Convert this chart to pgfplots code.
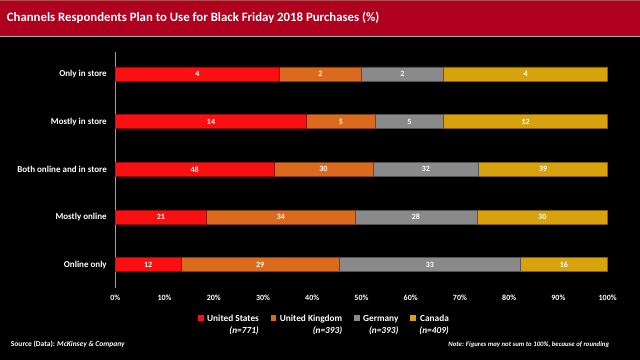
\documentclass[border=0pt]{standalone}
\usepackage{pgfplots}
\usepackage{pgfplotstable}
\pgfplotsset{compat=1.18}
\usepackage{fontspec}
\setmainfont{Carlito}
\definecolor{titlered}{HTML}{B00020}
\definecolor{cUS}{HTML}{FA1010}
\definecolor{cUK}{HTML}{DC6A1E}
\definecolor{cDE}{HTML}{8A8A8A}
\definecolor{cCA}{HTML}{D8A20C}

\pgfplotstableread{
y p v
0 13.33 12
1 18.58 21
2 32.21 48
3 38.89 14
4 33.33 4
}\tUS
\pgfplotstableread{
y p v
0 32.22 29
1 30.09 34
2 20.13 30
3 13.89 5
4 16.67 2
}\tUK
\pgfplotstableread{
y p v
0 36.67 33
1 24.78 28
2 21.48 32
3 13.89 5
4 16.67 2
}\tDE
\pgfplotstableread{
y p v
0 17.78 16
1 26.55 30
2 26.18 39
3 33.33 12
4 33.33 4
}\tCA

\begin{document}
\begin{tikzpicture}[x=1pt,y=1pt]
\fill[black] (0,0) rectangle (640,360);
\fill[titlered] (0,323) rectangle (640,360);
\draw[gray!60,line width=0.8pt] (0,323.4) -- (640,323.4);
\draw[red!40!gray,line width=0.6pt] (0,359.3) -- (640,359.3);
\node[anchor=west,text=white,font=\bfseries\fontsize{12.8}{14}\selectfont] at (3,342) {Channels Respondents Plan to Use for Black Friday 2018 Purchases (\%)};
\begin{axis}[
  at={(115pt,72pt)}, anchor=south west,
  scale only axis, width=493pt, height=236pt,
  xbar stacked, bar width=14pt,
  xmin=0, xmax=100, ymin=-0.48, ymax=4.46,
  axis lines*=left,
  x axis line style={draw=none},
  y axis line style={draw=gray!75, line width=0.6pt},
  major tick length=0pt,
  xtick={0,10,...,100},
  xticklabel={\pgfmathprintnumber{\tick}\%},
  /pgf/number format/assume math mode=true,
  ytick={0,1,2,3,4},
  yticklabels={Online only, Mostly online, Both online and in store, Mostly in store, Only in store},
  ticklabel style={text=white, font=\bfseries\fontsize{8}{9}\selectfont},
  xticklabel style={yshift=-4pt},
  yticklabel style={xshift=-5pt, font=\bfseries\fontsize{9}{10}\selectfont},
  visualization depends on={\thisrow{v} \as \rawv},
  nodes near coords={\pgfmathprintnumber{\rawv}},
  every node near coord/.append style={anchor=center, text=white, font=\bfseries\fontsize{8}{9}\selectfont},
  legend columns=4,
  legend image code/.code={\fill[#1,draw=none] (0pt,0.3pt) rectangle (5.5pt,5.8pt);},
  legend style={at={(rel axis cs:0.168,-0.097)}, anchor=north west, draw=none, fill=none, inner sep=0pt, text=white,
    font=\bfseries\fontsize{9.3}{12}\selectfont,
    cells={anchor=base west},
    /tikz/every odd column/.append style={column sep=1.5pt},
    /tikz/every even column/.append style={column sep=10pt}},
]
\addplot[fill=cUS, draw=cUS!60!black, line width=0.5pt] table[x=p,y=y] {\tUS};
\addlegendentry{\begin{tabular}[t]{@{}r@{}}United States\\\textit{(n=771)}\end{tabular}}
\addplot[fill=cUK, draw=cUK!60!black, line width=0.5pt] table[x=p,y=y] {\tUK};
\addlegendentry{\begin{tabular}[t]{@{}r@{}}United Kingdom\\\textit{(n=393)}\end{tabular}}
\addplot[fill=cDE, draw=cDE!60!black, line width=0.5pt] table[x=p,y=y] {\tDE};
\addlegendentry{\begin{tabular}[t]{@{}r@{}}Germany\\\textit{(n=393)}\end{tabular}}
\addplot[fill=cCA, draw=cCA!60!black, line width=0.5pt] table[x=p,y=y] {\tCA};
\addlegendentry{\begin{tabular}[t]{@{}r@{}}Canada\\\textit{(n=409)}\end{tabular}}
\end{axis}
\node[anchor=west,text=white,font=\bfseries\fontsize{7.5}{9}\selectfont] at (7,15) {Source (Data): \textit{McKinsey \& Company}};
\node[anchor=east,text=white,font=\bfseries\itshape\fontsize{6.8}{8}\selectfont] at (613,15) {Note: Figures may not sum to 100\%, because of rounding};
\end{tikzpicture}
\end{document}
